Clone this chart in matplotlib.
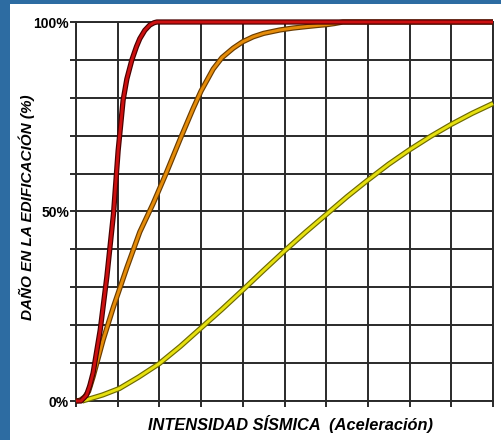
import matplotlib
matplotlib.use('Agg')
import matplotlib.pyplot as plt
import matplotlib.patheffects as pe
from matplotlib.patches import Rectangle

# datos (x en divisiones de la rejilla, y en %)
red_x = [0, 0.12, 0.25, 0.33, 0.41, 0.58, 0.74, 0.9, 1.01, 1.13, 1.22, 1.34,
         1.45, 1.53, 1.65, 1.77, 1.87, 1.94, 10]
red_y = [0, 0, 1.5, 4, 7.4, 18.7, 32.8, 49.5, 66, 79.4, 85, 90,
         93.5, 95.6, 97.8, 99.2, 99.8, 100, 100]

orange_x = [0, 0.1, 0.2, 0.3, 0.41, 0.65, 0.9, 1.22, 1.53, 1.85, 2.17, 2.49,
            2.81, 3.0, 3.29, 3.5, 3.77, 4.0, 4.25, 4.5, 4.89, 5.2, 5.53, 5.8,
            6.01, 6.2, 6.4, 10]
orange_y = [0, 0.2, 1, 2.5, 6.4, 16.1, 24.9, 35.2, 44.6, 52.1, 60.3, 68.9,
            77.2, 81.8, 87.6, 90.6, 93.1, 94.8, 96.1, 97, 97.9, 98.4, 98.8, 99.1,
            99.3, 99.6, 100, 100]

yellow_x = [0.15, 0.4, 0.64, 1.04, 1.5, 2.0, 2.5, 3.0, 3.5, 4.0, 4.5, 5.0,
            5.5, 6.0, 6.5, 7.0, 7.5, 8.0, 8.5, 9.0, 9.5, 10]
yellow_y = [0, 0.8, 1.6, 3.3, 6.3, 9.9, 14.4, 19.3, 24.2, 29.3, 34.5, 39.6,
            44.5, 49.2, 53.9, 58.3, 62.5, 66.3, 69.8, 73.0, 75.9, 78.5]

ytick_labels = {0: '0%', 50: '50%', 100: '100%'}

W, H = 501, 440
fig = plt.figure(figsize=(W / 100, H / 100), dpi=100)
fig.patch.set_facecolor('#2d6ca2')
fig.patches.append(Rectangle((10 / W, 0), 1, (H - 4) / H, transform=fig.transFigure,
                             facecolor='white', edgecolor='none', zorder=-5))

ax = fig.add_axes([76 / W, (H - 401) / H, (493 - 76) / W, (401 - 22) / H])
ax.set_zorder(2)
ax.patch.set_alpha(0)
ax.set_xlim(0, 10)
ax.set_ylim(0, 100)

ax.set_xticks(range(0, 11))
ax.set_xticklabels([])
ax.set_yticks(range(0, 101, 10))
ax.set_yticklabels([ytick_labels.get(v, '') for v in range(0, 101, 10)],
                   fontsize=10, fontweight='bold', family='Liberation Sans')
ax.tick_params(direction='out', length=4, width=1.4, color='#2a2a2a', pad=1)
ax.grid(True, color='#2a2a2a', linewidth=1.4)
ax.set_axisbelow(True)
for s in ax.spines.values():
    s.set_color('#2a2a2a')
    s.set_linewidth(1.4)

def curva(x, y, fill, edge):
    ax.plot(x, y, color=fill, linewidth=2.1, clip_on=False, zorder=3,
            solid_capstyle='butt', solid_joinstyle='round',
            path_effects=[pe.Stroke(linewidth=3.8, foreground=edge), pe.Normal()])

curva(yellow_x, yellow_y, '#e6e010', '#6e6a00')
curva(orange_x, orange_y, '#e58c0a', '#6b3c00')
curva(red_x, red_y, '#cc1010', '#4a0000')

fig.text(290 / W, 1 - 424 / H, 'INTENSIDAD SÍSMICA  (Aceleración)', ha='center', va='center',
         fontsize=11.8, fontweight='bold', style='italic', family='Liberation Sans')
fig.text(27 / W, 1 - 207 / H, 'DAÑO EN LA EDIFICACIÓN (%)', ha='center', va='center',
         rotation=90, fontsize=11, fontweight='bold', style='italic', family='Liberation Sans')

fig.savefig('out.png', dpi=100, facecolor=fig.get_facecolor())
